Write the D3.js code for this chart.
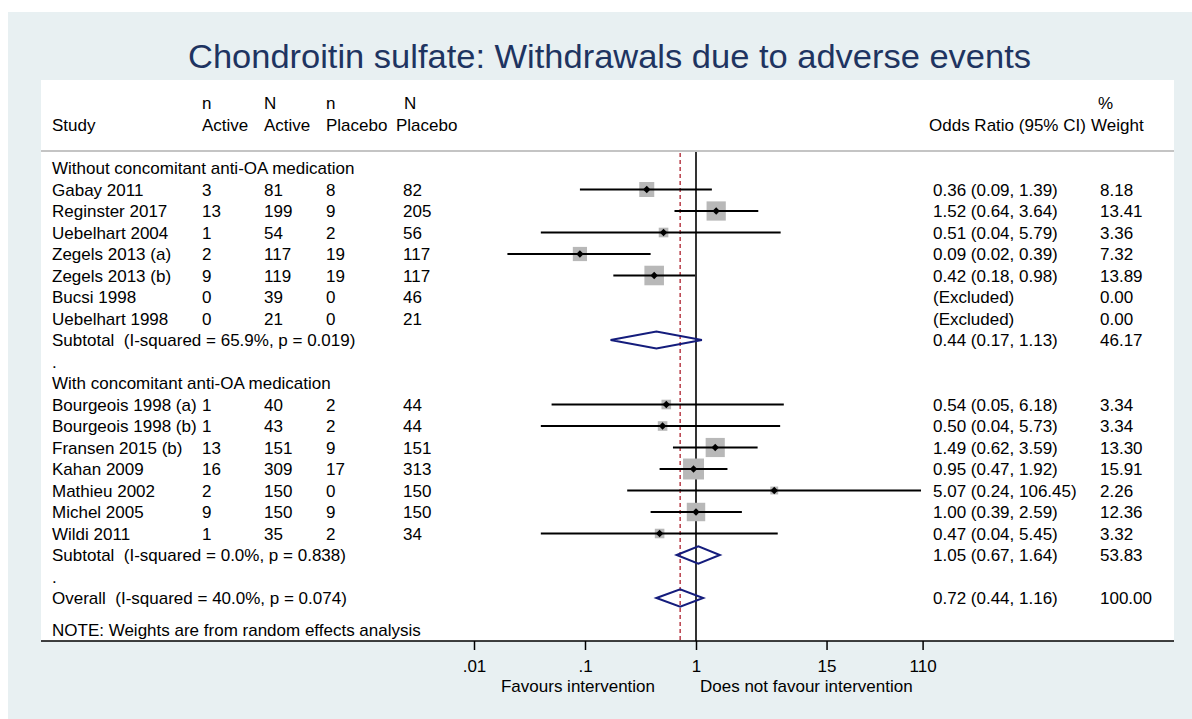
<!DOCTYPE html>
<html><head><meta charset="utf-8">
<script src="https://cdn.jsdelivr.net/npm/d3@7"></script>
<style>
body{margin:0;background:#fff}
svg{display:block}
text{font-family:"Liberation Sans",Arial,Helvetica,sans-serif;white-space:pre}
</style>
</head><body>
<svg id="c" width="1192" height="719"></svg>
<script>
// ---------- data ----------
const titleText = "Chondroitin sulfate: Withdrawals due to adverse events";
const headerTop = ["", "n", "N", "n", "N"];
const headerBottom = ["Study", "Active", "Active", "Placebo", "Placebo"];
const groupLabels = ["Without concomitant anti-OA medication", "With concomitant anti-OA medication"];

const g1Studies  = ["Gabay 2011","Reginster 2017","Uebelhart 2004","Zegels 2013 (a)","Zegels 2013 (b)","Bucsi 1998","Uebelhart 1998"];
const g1nActive  = ["3","13","1","2","9","0","0"];
const g1NActive  = ["81","199","54","117","119","39","21"];
const g1nPlacebo = ["8","9","2","19","19","0","0"];
const g1NPlacebo = ["82","205","56","117","117","46","21"];
const g1OR       = [0.36,1.52,0.51,0.09,0.42,null,null];
const g1Lower    = [0.09,0.64,0.04,0.02,0.18,null,null];
const g1Upper    = [1.39,3.64,5.79,0.39,0.98,null,null];
const g1Weight   = [8.18,13.41,3.36,7.32,13.89,0.00,0.00];

const g2Studies  = ["Bourgeois 1998 (a)","Bourgeois 1998 (b)","Fransen 2015 (b)","Kahan 2009","Mathieu 2002","Michel 2005","Wildi 2011"];
const g2nActive  = ["1","1","13","16","2","9","1"];
const g2NActive  = ["40","43","151","309","150","150","35"];
const g2nPlacebo = ["2","2","9","17","0","9","2"];
const g2NPlacebo = ["44","44","151","313","150","150","34"];
const g2OR       = [0.54,0.50,1.49,0.95,5.07,1.00,0.47];
const g2Lower    = [0.05,0.04,0.62,0.47,0.24,0.39,0.04];
const g2Upper    = [6.18,5.73,3.59,1.92,106.45,2.59,5.45];
const g2Weight   = [3.34,3.34,13.30,15.91,2.26,12.36,3.32];

const subtotalLabels = ["Subtotal  (I-squared = 65.9%, p = 0.019)", "Subtotal  (I-squared = 0.0%, p = 0.838)"];
const subtotalOR     = [0.44, 1.05];
const subtotalLower  = [0.17, 0.67];
const subtotalUpper  = [1.13, 1.64];
const subtotalWeight = [46.17, 53.83];

const overallLabel  = "Overall  (I-squared = 40.0%, p = 0.074)";
const overallOR     = 0.72;
const overallLower  = 0.44;
const overallUpper  = 1.16;
const overallWeight = 100.00;

const noteText = "NOTE: Weights are from random effects analysis";
const tickValues = [0.01, 0.1, 1, 15, 110];
const tickLabels = [".01", ".1", "1", "15", "110"];
const leftLabel  = "Favours intervention";
const rightLabel = "Does not favour intervention";

// ---------- build rows ----------
const rows = [];
function addGroup(gi, st, na, NA, np, NP, or, lo, hi, w) {
  rows.push({type:"heading", label: groupLabels[gi]});
  st.forEach((s,i) => rows.push({type:"study", label:s, cols:[na[i],NA[i],np[i],NP[i]], or:or[i], lo:lo[i], hi:hi[i], w:w[i]}));
  rows.push({type:"subtotal", label: subtotalLabels[gi], or: subtotalOR[gi], lo: subtotalLower[gi], hi: subtotalUpper[gi], w: subtotalWeight[gi]});
  rows.push({type:"blank", label:"."});
}
addGroup(0, g1Studies, g1nActive, g1NActive, g1nPlacebo, g1NPlacebo, g1OR, g1Lower, g1Upper, g1Weight);
addGroup(1, g2Studies, g2nActive, g2NActive, g2nPlacebo, g2NPlacebo, g2OR, g2Lower, g2Upper, g2Weight);
rows.push({type:"overall", label: overallLabel, or: overallOR, lo: overallLower, hi: overallUpper, w: overallWeight});

// ---------- layout ----------
const W = 1192, H = 719;
const bg = {x:8, y:12};
const panel = {x0:41, x1:1174, y0:80, y1:641};
const headerLineY = 151;
const colX = [52, 202, 264, 326, 403];
const headX = [52, 202, 264, 326, 396];
const headTopX = [52, 202, 264, 326, 404];
const orX = 933, wX = 1100;
const fs = 17;

const x = d3.scaleLog().domain([0.01, 100]).range([474, 918]);
const y = d3.scaleLinear().domain([0, 20]).range([168, 598]);
const boxSize = d3.scaleSqrt().domain([0, 16]).range([0, 21]);

const svg = d3.select("#c");
svg.append("rect").attr("x", bg.x).attr("y", bg.y).attr("width", W - bg.x).attr("height", H - bg.y).attr("fill", "#e8f0f2");
svg.append("rect").attr("x", panel.x0).attr("y", panel.y0).attr("width", panel.x1 - panel.x0).attr("height", panel.y1 - panel.y0).attr("fill", "#fff");

svg.append("text").attr("x", (188 + 1031) / 2).attr("y", 68).attr("text-anchor", "middle")
  .attr("font-size", 33).attr("fill", "#1e3461").attr("textLength", 843).attr("lengthAdjust", "spacingAndGlyphs").text(titleText);

// headers
const hdr = svg.append("g").attr("font-size", fs).attr("fill", "#000");
headerTop.forEach((t,i) => { if (t) hdr.append("text").attr("x", headTopX[i]).attr("y", 109).text(t); });
headerBottom.forEach((t,i) => hdr.append("text").attr("x", headX[i]).attr("y", 131).text(t));
hdr.append("text").attr("x", 929).attr("y", 131).text("Odds Ratio (95% CI)");
hdr.append("text").attr("x", 1098).attr("y", 109).text("%");
hdr.append("text").attr("x", 1091).attr("y", 131).text("Weight");

svg.append("line").attr("x1", panel.x0).attr("x2", panel.x1).attr("y1", headerLineY).attr("y2", headerLineY)
  .attr("stroke", "#c4c4c4").attr("stroke-width", 2);

// reference lines
svg.append("line").attr("x1", x(1)).attr("x2", x(1)).attr("y1", headerLineY + 1).attr("y2", panel.y1)
  .attr("stroke", "#000").attr("stroke-width", 1.6);
svg.append("line").attr("x1", x(overallOR)).attr("x2", x(overallOR)).attr("y1", headerLineY + 2).attr("y2", panel.y1)
  .attr("stroke", "#b3303c").attr("stroke-width", 1.4).attr("stroke-dasharray", "4,3");

// rows
const rowG = svg.append("g").attr("font-size", fs).attr("fill", "#000");
const marks = svg.append("g");
rows.forEach((r, i) => {
  const cy = y(i);
  const by = cy + 0.36 * fs;
  rowG.append("text").attr("x", colX[0]).attr("y", by).text(r.label);
  if (r.type === "study") {
    r.cols.forEach((c, j) => rowG.append("text").attr("x", colX[j+1]).attr("y", by).text(c));
    rowG.append("text").attr("x", orX).attr("y", by).text(r.or == null ? "(Excluded)" : `${r.or.toFixed(2)} (${r.lo.toFixed(2)}, ${r.hi.toFixed(2)})`);
    rowG.append("text").attr("x", wX).attr("y", by).text(r.w.toFixed(2));
    if (r.or != null) {
      const s = boxSize(r.w);
      marks.append("rect").attr("x", x(r.or) - s/2).attr("y", cy - s/2).attr("width", s).attr("height", s).attr("fill", "#b8b8b8");
      marks.append("line").attr("x1", x(r.lo)).attr("x2", x(r.hi)).attr("y1", cy).attr("y2", cy).attr("stroke", "#000").attr("stroke-width", 1.9);
      const d = 3.7, px = x(r.or);
      marks.append("path").attr("d", `M${px - d},${cy}L${px},${cy - d}L${px + d},${cy}L${px},${cy + d}Z`).attr("fill", "#000");
    }
  } else if (r.type === "subtotal" || r.type === "overall") {
    rowG.append("text").attr("x", orX).attr("y", by).text(`${r.or.toFixed(2)} (${r.lo.toFixed(2)}, ${r.hi.toFixed(2)})`);
    rowG.append("text").attr("x", wX).attr("y", by).text(r.w.toFixed(2));
    const h = 8.6;
    marks.append("path").attr("d", `M${x(r.lo)},${cy}L${x(r.or)},${cy - h}L${x(r.hi)},${cy}L${x(r.or)},${cy + h}Z`)
      .attr("fill", "none").attr("stroke", "#141c7c").attr("stroke-width", 2);
  }
});
rowG.append("text").attr("x", colX[0]).attr("y", y(21.5) + 0.36 * fs).text(noteText);

// axis
svg.append("line").attr("x1", panel.x0).attr("x2", panel.x1).attr("y1", panel.y1).attr("y2", panel.y1)
  .attr("stroke", "#000").attr("stroke-width", 1.6);
const axis = d3.axisBottom(x).tickValues(tickValues).tickFormat((d, i) => tickLabels[i]).tickSize(9).tickPadding(10);
const ax = svg.append("g").attr("transform", `translate(0,${panel.y1})`).call(axis);
ax.select(".domain").remove();
ax.selectAll(".tick line").attr("stroke", "#000").attr("stroke-width", 1.5);
ax.selectAll(".tick text").attr("font-size", fs).attr("fill", "#000").attr("font-family", '"Liberation Sans",Arial,sans-serif');

svg.append("text").attr("x", 655).attr("y", 686 + 0.36 * fs).attr("text-anchor", "end").attr("font-size", fs).text(leftLabel);
svg.append("text").attr("x", 700).attr("y", 686 + 0.36 * fs).attr("font-size", fs).text(rightLabel);
</script>
</body></html>
